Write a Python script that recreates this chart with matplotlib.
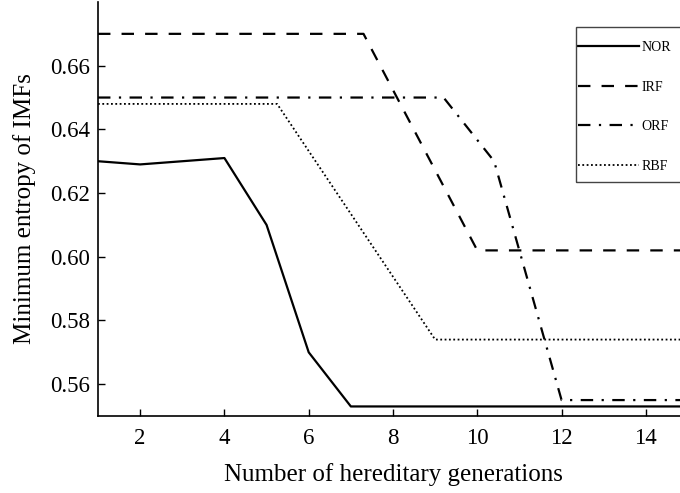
import numpy as np
import matplotlib
matplotlib.use("Agg")
import matplotlib.pyplot as plt
from matplotlib.patches import Rectangle

# values
nor_x = [1, 2, 4, 5, 6, 7, 15]
nor_y = [0.630, 0.629, 0.631, 0.610, 0.570, 0.553, 0.553]

irf_x = [1, 7.3, 10, 15]
irf_y = [0.670, 0.670, 0.602, 0.602]

orf_x = [1, 9.2, 10.4, 12, 15]
orf_y = [0.650, 0.650, 0.630, 0.555, 0.555]

rbf_x = [1, 5.25, 9, 15]
rbf_y = [0.648, 0.648, 0.574, 0.574]

x_ticks = [2, 4, 6, 8, 10, 12, 14]
y_ticks = [0.56, 0.58, 0.60, 0.62, 0.64, 0.66]

plt.rcParams['font.family'] = ['Liberation Serif', 'DejaVu Serif']

W, H = 680, 493
fig = plt.figure(figsize=(W / 100, H / 100), dpi=100)
ax = fig.add_axes([98 / W, 1 - 416 / H, (688 - 98) / W, (416 - 2) / H])

lw = 1.6
ax.plot(nor_x, nor_y, color='black', lw=lw, linestyle='-', label='NOR')
ax.plot(irf_x, irf_y, color='black', lw=lw, linestyle=(0, (5.6, 5)), label='IRF')
ax.plot(orf_x, orf_y, color='black', lw=lw, linestyle=(0, (5.6, 3.8, 1, 3.8)), label='ORF')
ax.plot(rbf_x, rbf_y, color='black', lw=1.3, linestyle=(0, (1, 1.4)), label='RBF')

ax.set_xlim(1, 15)
ax.set_ylim(0.55, 0.68)
ax.set_xticks(x_ticks)
ax.set_yticks(y_ticks)
ax.set_yticklabels([f"{v:.2f}" for v in y_ticks])
ax.tick_params(direction='in', length=5, width=1, labelsize=16.5)
ax.tick_params(axis='x', pad=9)
ax.tick_params(axis='y', pad=6)

for s in ['top', 'right']:
    ax.spines[s].set_visible(False)
for s in ['left', 'bottom']:
    ax.spines[s].set_linewidth(1.2)

ax.set_xlabel("Number of hereditary generations", fontsize=18, labelpad=10)
ax.set_ylabel("Minimum entropy of IMFs", fontsize=18, labelpad=10)

# legend: entries without frame, box drawn by hand (right side is cropped)
leg = ax.legend(loc='upper left', bbox_to_anchor=(578 / W, 1 - 41 / H),
                bbox_transform=fig.transFigure, borderaxespad=0, borderpad=0,
                fontsize=10, frameon=False,
                handlelength=4.4, handletextpad=0.15, labelspacing=1.92)
box = Rectangle((576 / W, 1 - 182 / H), 0.2, (182 - 27) / H,
                transform=fig.transFigure, fill=False,
                edgecolor='#444444', lw=1.0, clip_on=False)
fig.add_artist(box)

fig.savefig("out.png", dpi=100)
